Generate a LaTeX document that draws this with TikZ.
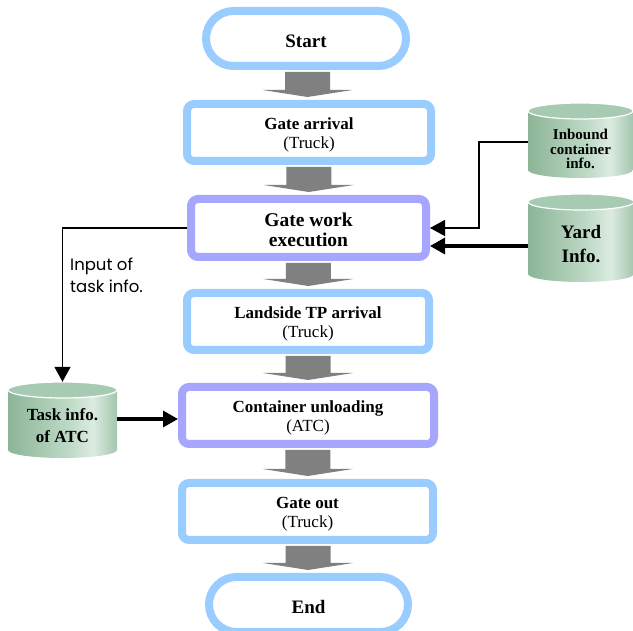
\documentclass[tikz,border=0pt]{standalone}
\usepackage{fontspec}
\setmainfont{Liberation Serif}
\newfontfamily\gothic{Poppins}
\usetikzlibrary{arrows.meta,calc}
\definecolor{lblue}{HTML}{99CCFF}
\definecolor{lpurp}{HTML}{A6A6FF}
\definecolor{agray}{HTML}{808080}
\definecolor{cgA}{HTML}{8CB597}
\definecolor{cgB}{HTML}{BCD8C4}
\definecolor{cgC}{HTML}{DCEBE1}
\definecolor{cgD}{HTML}{A3C6AE}
\definecolor{ctop}{HTML}{A7CAB3}
\pgfdeclarehorizontalshading{cylshade}{100bp}{color(0bp)=(cgA); color(25bp)=(cgA); color(52bp)=(cgB); color(64bp)=(cgC); color(75bp)=(cgD); color(100bp)=(cgD)}
\newcommand\cylshape[4]{%
  \pgfmathsetmacro\cxr{(#2-#1)/2}%
  \shade[shading=cylshade] (#1,#3+8) -- (#1,#4-8)
     arc[start angle=180,end angle=360,x radius=\cxr pt,y radius=8pt]
     -- (#2,#3+8)
     arc[start angle=0,end angle=180,x radius=\cxr pt,y radius=8pt] -- cycle;
  \draw[fill=ctop,draw=white,line width=1.2pt] ({(#1+#2)/2},#3+8) ellipse[x radius=\cxr pt,y radius=8pt];
}
\newcommand\blockarr[2]{%
  \fill[agray] let \p1=(#1.south), \p2=(#2.north), \n1={(\x1+\x2)/2} in
    ({\n1-22.5pt},{\y1-2pt}) -- ({\n1+22.5pt},{\y1-2pt}) -- ({\n1+22.5pt},{\y2+10pt})
    -- ({\n1+45pt},{\y2+10pt}) -- (\n1,{\y2+3pt}) -- ({\n1-45pt},{\y2+10pt})
    -- ({\n1-22.5pt},{\y2+10pt}) -- cycle;
}
\newcommand\tstrut[1]{\rule{0pt}{#1}}
\tikzset{
  procbox/.style={draw=lblue, line width=8pt, rounded corners=7pt, fill=white,
    align=center, font=\fontsize{17}{19}\selectfont, inner sep=0pt, minimum height=57pt},
  workbox/.style={procbox, draw=lpurp},
  termbox/.style={draw=lblue, line width=8pt, rounded corners=27.5pt, fill=white,
    font=\bfseries\fontsize{19}{21}\selectfont, minimum width=200pt, minimum height=55pt, inner sep=0pt},
  cyltext/.style={align=center, inner sep=0pt, font=\bfseries\fontsize{17}{22}\selectfont},
  thinarr/.style={draw=black, line width=1.4pt, -{Triangle[length=15pt,width=16pt]}},
  thickarr/.style={draw=black, line width=3.2pt, -{Triangle[length=15pt,width=16pt]}},
  lbltext/.style={align=left, inner sep=0pt, font=\gothic\fontsize{16.5}{22}\selectfont}
}
\begin{document}
\begin{tikzpicture}[x=1pt,y=-1pt]
\useasboundingbox (0,0) rectangle (633,631);
% cylinders
\cylshape{528}{633}{103}{178}
\cylshape{528}{634}{194}{282}
\cylshape{8}{117}{382}{458}
% flow nodes
\node[termbox] (start) at (306,38.5) {\tstrut{19pt}Start};
\node[procbox, minimum width=244pt] (ga) at (309,132.5) {\tstrut{17.5pt}\textbf{Gate arrival}\\(Truck)};
\node[workbox, minimum width=235pt, minimum height=58pt, font=\bfseries\fontsize{19.5}{20}\selectfont] (gw) at (308.5,228) {\tstrut{17pt}Gate work\\execution};
\node[procbox, minimum width=242pt] (lt) at (308,321.5) {\tstrut{17.5pt}\textbf{Landside TP arrival}\\(Truck)};
\node[workbox, minimum width=252pt] (cu) at (308,415.5) {\tstrut{17.5pt}\textbf{Container unloading}\\(ATC)};
\node[procbox, minimum width=251pt] (go) at (307.5,511.5) {\tstrut{17.5pt}\textbf{Gate out}\\(Truck)};
\node[termbox, minimum width=199pt] (end) at (308.5,604.5) {\tstrut{19pt}End};
% database nodes
\node[cyltext, minimum width=105pt, font=\bfseries\fontsize{15}{14.2}\selectfont] (inb) at (580.5,149) {Inbound\\container\\info.};
\node[cyltext, minimum width=106pt, font=\bfseries\fontsize{19}{24}\selectfont] (yard) at (581,244) {Yard\\Info.};
\node[cyltext, minimum width=109pt, minimum height=84pt] (task) at (62.5,426) {Task info.\\of ATC};
% label
\node[lbltext, anchor=north west] (lbl) at (70,258) {Input of\\task info.};
% block arrows
\blockarr{start}{ga}
\blockarr{ga}{gw}
\blockarr{gw}{lt}
\blockarr{lt}{cu}
\blockarr{cu}{go}
\blockarr{go}{end}
% connectors
\draw[thinarr] ([yshift=7pt]inb.west) -- ++(-49,0) |- (gw.east);
\coordinate (ya) at ([yshift=-2pt]yard.west);
\draw[thickarr] (ya) -- (ya -| gw.east);
\draw[thinarr, shorten >=2pt] (gw.west) -| (task.north);
\coordinate (ta) at ([yshift=7pt]task.east);
\draw[thickarr] (ta) -- (ta -| cu.west);
\end{tikzpicture}
\end{document}
